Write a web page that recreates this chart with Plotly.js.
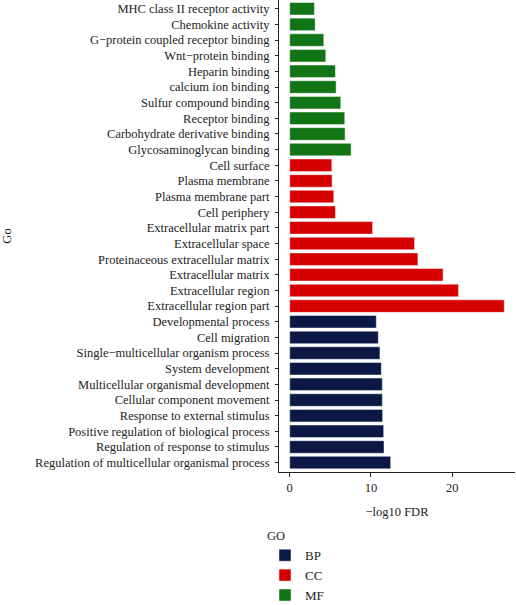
<!DOCTYPE html>
<html>
<head>
<meta charset="utf-8">
<script src="https://cdn.plot.ly/plotly-3.0.1.min.js"></script>
<style>html,body{margin:0;padding:0;background:#fff;}#chart{width:516px;height:605px;}</style>
</head>
<body>
<div id="chart"></div>
<script>
// Categories from top to bottom
const mfTerms = ["MHC class II receptor activity","Chemokine activity","G\u2212protein coupled receptor binding","Wnt\u2212protein binding","Heparin binding","calcium ion binding","Sulfur compound binding","Receptor binding","Carbohydrate derivative binding","Glycosaminoglycan binding"];
const mfValues = [3.04,3.13,4.19,4.44,5.62,5.71,6.28,6.77,6.81,7.55];

const ccTerms = ["Cell surface","Plasma membrane","Plasma membrane part","Cell periphery","Extracellular matrix part","Extracellular space","Proteinaceous extracellular matrix","Extracellular matrix","Extracellular region","Extracellular region part"];
const ccValues = [5.18,5.21,5.42,5.62,10.2,15.36,15.77,18.87,20.76,26.4];

const bpTerms = ["Developmental process","Cell migration","Single\u2212multicellular organism process","System development","Multicellular organismal development","Cellular component movement","Response to external stimulus","Positive regulation of biological process","Regulation of response to stimulus","Regulation of multicellular organismal process"];
const bpValues = [10.65,10.9,11.1,11.27,11.39,11.39,11.43,11.56,11.6,12.42];

const groupNames = ["BP","CC","MF"];
const groupColors = {BP:"#0b1744", CC:"#d60000", MF:"#117516"};

const allTerms = mfTerms.concat(ccTerms, bpTerms);
const FONT = "'Liberation Serif', 'DejaVu Serif', serif";

function bar(name, terms, vals){
  return {
    type:"bar", orientation:"h", name:name,
    x: vals, y: terms, width:0.8,
    marker:{color:groupColors[name], line:{color:"rgba(255,255,255,0.45)", width:1}},
    hoverinfo:"x+y"
  };
}
const data = [bar("BP",bpTerms,bpValues), bar("CC",ccTerms,ccValues), bar("MF",mfTerms,mfValues)];

const layout = {
  width:516, height:605,
  margin:{l:279, r:1, t:0, b:133, pad:0, autoexpand:false},
  paper_bgcolor:"#fff", plot_bgcolor:"#fff",
  font:{family:FONT, size:12.5, color:"#222"},
  bargap:0.2,
  showlegend:true,
  xaxis:{
    range:[-1.32,27.72], tickvals:[0,10,20], ticktext:["0","10","20"],
    showline:true, linecolor:"#222", linewidth:1,
    ticks:"outside", ticklen:4, tickcolor:"#222", showgrid:false, zeroline:false,
    tickfont:{family:FONT, size:12.5, color:"#222"},
    title:{text:"\u2212log10 FDR", font:{family:FONT, size:12.5, color:"#222"}, standoff:13}
  },
  yaxis:{
    type:"category", categoryorder:"array", categoryarray:allTerms,
    range:[29.6,-0.56],
    showline:true, linecolor:"#222", linewidth:1,
    ticks:"outside", ticklen:3, tickcolor:"#222", showgrid:false, zeroline:false,
    ticklabelstandoff:3,
    tickfont:{family:FONT, size:12.5, color:"#222"},
    title:{text:"Go", font:{family:FONT, size:12.5, color:"#222"}, standoff:262}
  },
  legend:{
    xref:"container", yref:"container",
    x:265/516, xanchor:"left", y:(605-524)/605, yanchor:"top",
    orientation:"v", traceorder:"normal",
    title:{text:"GO", font:{family:FONT, size:12.5, color:"#222"}},
    font:{family:FONT, size:13, color:"#222"},
    bgcolor:"rgba(0,0,0,0)"
  }
};
Plotly.newPlot("chart", data, layout, {staticPlot:true, displayModeBar:false});
</script>
</body>
</html>
